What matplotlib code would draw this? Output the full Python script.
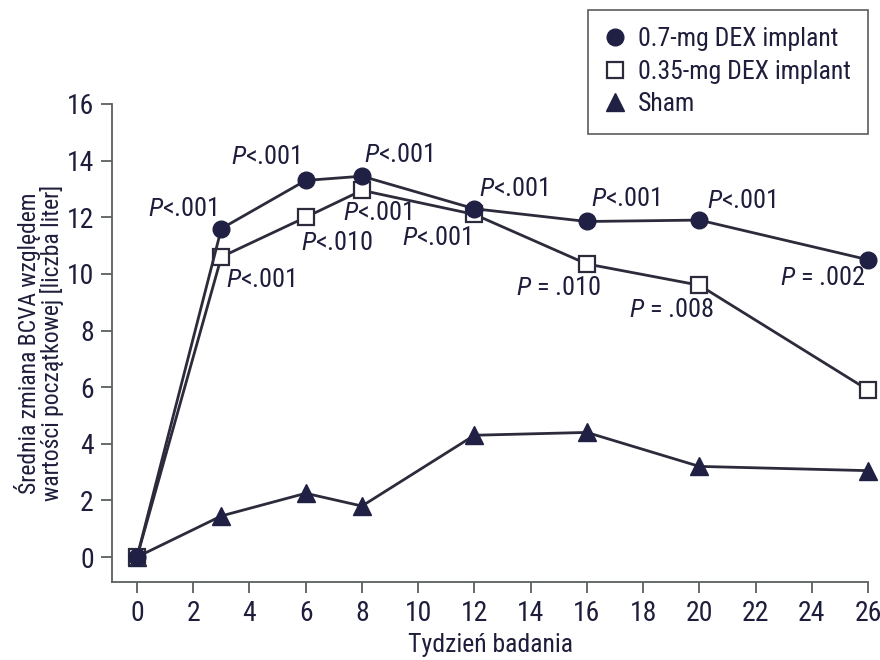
import matplotlib
matplotlib.use("Agg")
import matplotlib.pyplot as plt
from matplotlib import font_manager

# Prefer a condensed sans face when one is installed
names = {f.name for f in font_manager.fontManager.ttflist}
base = "Liberation Sans"
for cand in ["Liberation Sans Narrow", "Roboto Condensed", "Open Sans Condensed",
             "Noto Sans Condensed"]:
    if cand in names:
        base = cand
        break
plt.rcParams["font.family"] = [base, "DejaVu Sans"]
plt.rcParams["mathtext.fontset"] = "custom"
plt.rcParams["mathtext.it"] = base + ":italic"
plt.rcParams["mathtext.rm"] = base

weeks = [0, 3, 6, 8, 12, 16, 20, 26]
dex07 = [0, 11.6, 13.3, 13.45, 12.3, 11.85, 11.9, 10.5]
dex035 = [0, 10.6, 12.0, 12.95, 12.1, 10.35, 9.6, 5.9]
sham = [0, 1.45, 2.25, 1.8, 4.3, 4.4, 3.2, 3.05]

p07 = ["<.001", "<.001", "<.001", "<.001", "<.001", "<.001", " = .002"]
p035 = ["<.001", "<.010", "<.001", "<.001", " = .010", " = .008"]

# label offsets (px) from each point, weeks 3..26
off07 = [(-39, 20), (-40, 23), (37, 21), (39, 20), (39, 22), (42, 19), (-45, -18)]
off035 = [(39, -23), (32, -26), (16, -23), (-38, -24), (-28, -24), (-28, -25)]

navy = "#1f2044"
linec = "#2b2b3b"
textc = "#1e1e3c"
axc = "#5a5f60"

fig = plt.figure(figsize=(8.8, 6.6), dpi=100)
ax = fig.add_axes([112 / 880, 1 - 582 / 660, (868 - 112) / 880, (582 - 104) / 660])

ax.plot(weeks, sham, color=linec, lw=2, marker="^", ms=13, mfc=navy, mec=navy,
        label="Sham", zorder=3, clip_on=False)
ax.plot(weeks, dex035, color=linec, lw=2, marker="s", ms=11, mfc="white", mec=linec,
        mew=1.6, label="0.35-mg DEX implant", zorder=4, clip_on=False)
ax.plot(weeks, dex07, color=linec, lw=2, marker="o", ms=12, mfc=navy, mec=navy,
        label="0.7-mg DEX implant", zorder=5, clip_on=False)

fs = 19
for w, v, p, (dx, dy) in zip(weeks[1:], dex07[1:], p07, off07):
    ax.annotate(r"$P$" + p, (w, v), xytext=(dx * 0.72, dy * 0.72), textcoords="offset points",
                ha="center", va="center", fontsize=fs, color=textc)
for w, v, p, (dx, dy) in zip(weeks[1:], dex035[1:], p035, off035):
    ax.annotate(r"$P$" + p, (w, v), xytext=(dx * 0.72, dy * 0.72), textcoords="offset points",
                ha="center", va="center", fontsize=fs, color=textc)

ax.set_xlim(-0.89, 26)
ax.set_ylim(-0.883, 16)
ax.set_xticks(range(0, 27, 2))
ax.set_yticks(range(0, 17, 2))
for s in ["top", "right"]:
    ax.spines[s].set_visible(False)
for s in ["left", "bottom"]:
    ax.spines[s].set_color(axc)
    ax.spines[s].set_linewidth(1.3)
ax.tick_params(axis="both", labelsize=20, colors=axc, labelcolor=textc,
               length=8, width=1.3)
ax.tick_params(axis="x", pad=5)
ax.tick_params(axis="y", pad=5)

ax.set_xlabel("Tydzień badania", fontsize=18.5, color=textc, labelpad=4)
ax.set_ylabel("Średnia zmiana BCVA względem\nwartości początkowej [liczba liter]",
              fontsize=17, color=textc, labelpad=2, linespacing=0.95)

handles, labels = ax.get_legend_handles_labels()
order = [2, 1, 0]
leg = fig.legend([handles[i] for i in order], [labels[i] for i in order],
                 loc="upper right", bbox_to_anchor=(868 / 880, 1 - 10 / 660),
                 fontsize=18.5, frameon=True, fancybox=False, handlelength=0.7,
                 handletextpad=0.55, borderpad=0.68, labelspacing=0.33,
                 borderaxespad=0)
leg.get_frame().set_edgecolor("#333333")
leg.get_frame().set_linewidth(1.2)
for t in leg.get_texts():
    t.set_color(textc)
for h in leg.legend_handles:
    h.set_linestyle("none")

fig.savefig("out.png", dpi=100)
